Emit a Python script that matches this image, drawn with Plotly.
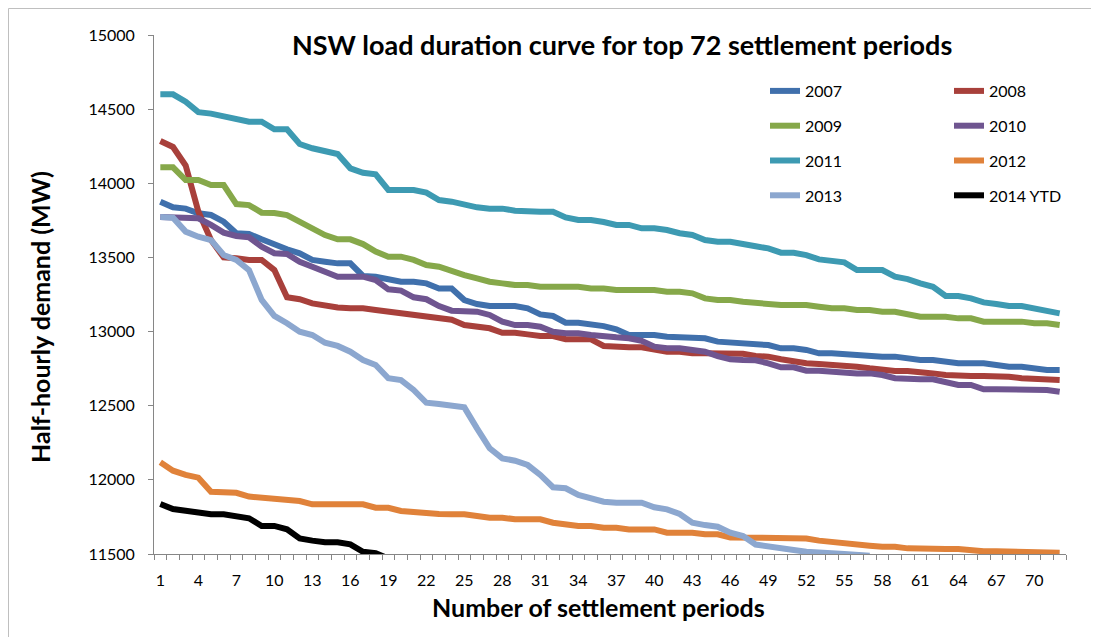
import plotly.graph_objects as go

periods = list(range(1, 73))

y2007 = [13876,13838,13829,13798,13786,13741,13663,13658,13622,13584,
         13555,13528,13483,13471,13460,13460,13375,13370,13348,13336,
         13336,13325,13291,13291,13213,13186,13172,13172,13172,13157,
         13116,13105,13060,13060,13051,13037,13015,12977,12977,12977,
         12965,12965,12955,12955,12932,12925,12925,12909,12909,12887,
         12887,12876,12853,12853,12847,12842,12831,12831,12831,12820,
         12808,12808,12797,12786,12786,12786,12775,12763,12763,12752,
         12741,12741]
y2008 = [14285,14245,14120,13810,13617,13500,13494,13483,13483,13415,
         13231,13218,13190,13172,13163,13157,13157,13146,13134,13123,
         13112,13100,13089,13080,13044,13033,13022,12992,12992,12981,
         12970,12970,12948,12948,12948,12903,12894,12894,12894,12880,
         12864,12864,12853,12853,12853,12853,12850,12835,12831,12813,
         12797,12786,12781,12775,12775,12763,12752,12741,12734,12734,
         12729,12718,12707,12700,12700,12700,12700,12696,12685,12678,
         12673,12673]
y2009 = [14108,14108,14022,14022,13988,13988,13860,13853,13802,13800,
         13786,13741,13685,13651,13622,13622,13590,13539,13505,13505,
         13483,13449,13437,13404,13381,13359,13336,13325,13314,13314,
         13302,13302,13302,13302,13291,13291,13280,13280,13280,13280,
         13269,13269,13258,13224,13213,13213,13201,13192,13179,13179,
         13179,13179,13168,13157,13157,13146,13146,13134,13134,13112,
         13100,13100,13100,13089,13089,13067,13067,13067,13067,13056,
         13056,13044]
y2010 = [13772,13772,13764,13764,13719,13667,13645,13636,13572,13528,
         13523,13471,13437,13404,13370,13370,13370,13348,13285,13276,
         13231,13218,13172,13141,13134,13134,13112,13067,13044,13044,
         13033,12999,12988,12988,12977,12965,12961,12955,12938,12898,
         12887,12887,12876,12864,12835,12813,12808,12806,12786,12759,
         12759,12736,12736,12729,12718,12718,12718,12707,12685,12678,
         12678,12678,12655,12640,12640,12611,12611,12611,12606,12606,
         12606,12594]
y2011 = [14600,14600,14550,14480,14470,14450,14435,14415,14415,14364,
         14364,14265,14236,14218,14197,14101,14071,14060,13955,13955,
         13955,13937,13887,13876,13853,13838,13829,13829,13815,13808,
         13808,13808,13770,13752,13752,13739,13719,13719,13696,13696,
         13685,13663,13651,13617,13606,13606,13595,13575,13561,13532,
         13532,13516,13487,13478,13467,13415,13415,13415,13370,13354,
         13325,13302,13240,13240,13224,13197,13186,13172,13172,13157,
         13139,13123]
y2012 = [12118,12062,12033,12015,11920,11913,11913,11887,11880,11880,
         11869,11857,11835,11835,11835,11835,11835,11812,11812,11790,
         11781,11781,11770,11768,11768,11756,11745,11745,11734,11734,
         11734,11711,11700,11689,11689,11677,11677,11666,11666,11666,
         11644,11644,11644,11633,11633,11612,11612,11612,11612,11605,
         11605,11605,11590,11579,11572,11567,11556,11549,11549,11538,
         11534,11534,11534,11534,11522,11518,11518,11518,11518,11509,
         11509,11509]
y2013 = [13772,13768,13674,13640,13617,13516,13483,13415,13213,13106,
         13056,12999,12977,12925,12903,12864,12808,12775,12685,12673,
         12606,12520,12511,12498,12489,12347,12213,12145,12129,12100,
         12033,11950,11943,11898,11876,11853,11846,11846,11846,11815,
         11801,11770,11711,11695,11684,11644,11621,11564,11549,11538,
         11527,11515,11515,11505,11500,11494,11488] + [None] * 15
y2014 = [11837,11803,11792,11778,11768,11768,11756,11741,11689,11689,
         11666,11605,11590,11579,11579,11565,11515,11505,11470] + [None] * 53

series = [
    ("2007", y2007, "#4070AC", "legend"),
    ("2008", y2008, "#A8403B", "legend2"),
    ("2009", y2009, "#86A84A", "legend"),
    ("2010", y2010, "#6F5590", "legend2"),
    ("2011", y2011, "#3D9AB2", "legend"),
    ("2012", y2012, "#E0823A", "legend2"),
    ("2013", y2013, "#8CA7CF", "legend"),
    ("2014 YTD", y2014, "#000000", "legend2"),
]

x_ticks = list(range(1, 73, 3))
y_ticks = [11500, 12000, 12500, 13000, 13500, 14000, 14500, 15000]

fig = go.Figure()
for name, ys, color, leg in series:
    fig.add_trace(go.Scatter(
        x=periods, y=ys, mode="lines", name=name,
        line=dict(color=color, width=6),
        legend=leg, legendgroup=name, connectgaps=False,
    ))

# page is offset by the default 8px body margin
OFF = 8
W, H = 1091, 629
L, T = 154 - OFF, 35 - OFF
pw, ph = 1066 - 154, 554 - 35
R, B = W - L - pw, H - T - ph

def px_x(p):
    return (p - OFF - L) / pw

def px_y(p):
    return 1 - (p - OFF - T) / ph

axis_col = "#868686"
font_main = "Lato, 'Open Sans', sans-serif"

leg_common = dict(
    xanchor="left", yanchor="top", orientation="v",
    font=dict(family=font_main, size=16, color="#000"),
    bgcolor="rgba(0,0,0,0)", borderwidth=0, tracegroupgap=11,
    itemwidth=30,
)

fig.update_layout(
    width=W, height=H,
    margin=dict(l=L, r=R, t=T, b=B, autoexpand=False),
    paper_bgcolor="white", plot_bgcolor="white",
    font=dict(family=font_main, size=16, color="#000"),
    showlegend=True,
    legend=dict(x=px_x(765), y=px_y(74), **leg_common),
    legend2=dict(x=px_x(949), y=px_y(74), **leg_common),
    xaxis=dict(
        range=[0.5, 72.5], tickmode="array", tickvals=x_ticks,
        ticktext=[str(v) for v in x_ticks],
        ticks="", showgrid=False, zeroline=False,
        showline=True, linecolor=axis_col, linewidth=1,
        ticklabelstandoff=12,
        tickfont=dict(family=font_main, size=16, color="#000"),
        minor=dict(tickmode="array", tickvals=[i + 0.5 for i in range(0, 73)],
                   ticks="outside", ticklen=5, tickcolor=axis_col, tickwidth=1,
                   showgrid=False),
    ),
    yaxis=dict(
        range=[11500, 15000], tickmode="array", tickvals=y_ticks,
        ticktext=[str(v) for v in y_ticks],
        ticks="outside", ticklen=5, tickcolor=axis_col, tickwidth=1,
        showgrid=False, zeroline=False,
        showline=True, linecolor=axis_col, linewidth=1,
        ticklabelstandoff=10,
        tickfont=dict(family=font_main, size=16, color="#000"),
    ),
    annotations=[
        dict(text="<b>NSW load duration curve for top 72 settlement periods</b>",
             x=px_x(622), y=px_y(44), xref="paper", yref="paper",
             xanchor="center", yanchor="middle", showarrow=False,
             font=dict(family=font_main, size=27, color="#000")),
        dict(text="<b>Half-hourly demand (MW)</b>",
             x=px_x(40), y=px_y(317), xref="paper", yref="paper",
             xanchor="center", yanchor="middle", showarrow=False, textangle=-90,
             font=dict(family=font_main, size=25, color="#000")),
        dict(text="<b>Number of settlement periods</b>",
             x=px_x(598), y=px_y(607), xref="paper", yref="paper",
             xanchor="center", yanchor="middle", showarrow=False,
             font=dict(family=font_main, size=25, color="#000")),
    ],
    shapes=[
        dict(type="line", xref="paper", yref="paper",
             x0=px_x(8.5), x1=px_x(1099), y0=px_y(8.5), y1=px_y(8.5),
             line=dict(color="#BFBFBF", width=1)),
        dict(type="line", xref="paper", yref="paper",
             x0=px_x(8.5), x1=px_x(8.5), y0=px_y(8.5), y1=px_y(637),
             line=dict(color="#BFBFBF", width=1)),
    ],
)

fig.write_html("out.html")
